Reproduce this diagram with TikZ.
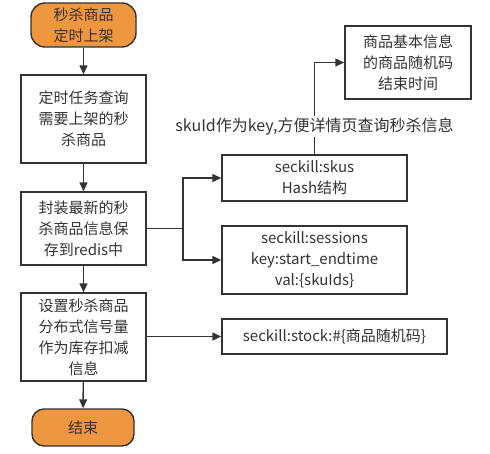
\documentclass[tikz,border=0pt]{standalone}
\usepackage{fontspec}
\setmainfont{Noto Sans CJK SC}
\usetikzlibrary{arrows.meta}
\definecolor{ln}{RGB}{51,51,51}
\definecolor{org}{RGB}{239,150,64}
\begin{document}
\begin{tikzpicture}[x=1pt,y=-1pt,
  every node/.style={text=ln,font=\fontsize{15}{21}\selectfont,align=center,inner sep=0pt},
  proc/.style={draw=ln,line width=1.4pt,fill=white},
  term/.style={draw=ln,line width=1.4pt,fill=org,rounded corners=14pt},
  conn/.style={draw=ln,line width=1.4pt,-{Triangle[length=9pt,width=8pt]}}]
\useasboundingbox (0,0) rectangle (490,453);
% start
\node[term,minimum width=105pt,minimum height=44pt] (s) at (83.5,25) {秒杀商品\\定时上架};
\node[proc,minimum width=125pt,minimum height=88pt] (b1) at (83.5,119) {定时任务查询\\需要上架的秒\\杀商品};
\node[proc,minimum width=125pt,minimum height=73pt] (b2) at (83.5,228.5) {封装最新的秒\\杀商品信息保\\存到redis中};
\node[proc,minimum width=125pt,minimum height=88pt] (b3) at (83.5,337) {设置秒杀商品\\分布式信号量\\作为库存扣减\\信息};
\node[term,minimum width=102pt,minimum height=37pt,rounded corners=12pt] (e) at (83,427.5) {结束};
% right
\node[proc,minimum width=185pt,minimum height=46pt] (skus) at (314.5,178) {seckill:skus\\Hash结构};
\node[proc,minimum width=185pt,minimum height=68pt] (sess) at (314.5,260) {seckill:sessions\\key:start\_endtime\\val:\{skuIds\}};
\node[proc,minimum width=225pt,minimum height=35pt] (stock) at (334.5,336.5) {seckill:stock:\#\{商品随机码\}};
\node[proc,minimum width=126pt,minimum height=73pt] (info) at (408,62.5) {商品基本信息\\的商品随机码\\结束时间};
% connectors
\draw[conn] (s) -- (b1);
\draw[conn] (b1) -- (b2);
\draw[conn] (b2) -- (b3);
\draw[conn] (b3) -- (e);
\coordinate (j) at (183,228.5);
\draw[draw=ln,line width=1.4pt] (b2.east) -- (j);
\draw[conn] (j) |- (skus.west);
\draw[conn] (j) |- (sess.west);
\draw[conn] (b3.east |- stock.west) -- (stock.west);
\draw[conn] (skus.north) |- (info.west)
  node[pos=0.15,fill=white,inner xsep=1pt,inner ysep=2pt,font=\fontsize{16}{21}\selectfont] {skuId作为key,方便详情页查询秒杀信息};
\end{tikzpicture}
\end{document}
